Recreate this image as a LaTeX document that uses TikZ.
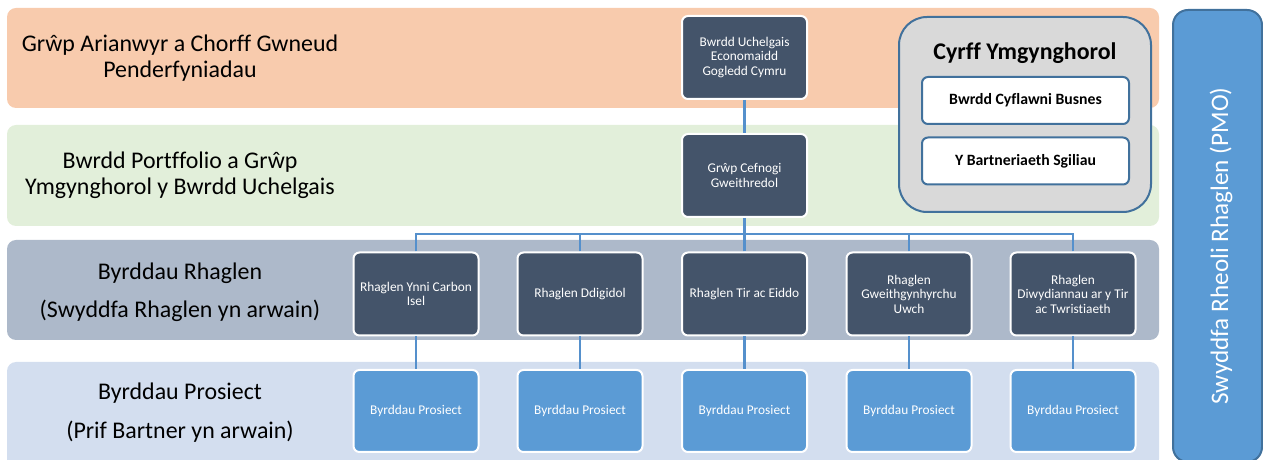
\documentclass[tikz,border=0pt]{standalone}
\usepackage{fontspec}
\setmainfont{Carlito}[Ligatures=NoCommon]
\definecolor{bandA}{HTML}{F8CBAD}
\definecolor{bandB}{HTML}{E2EFDA}
\definecolor{bandC}{HTML}{ADB9CA}
\definecolor{bandD}{HTML}{D3DEEF}
\definecolor{darkbox}{HTML}{44546A}
\definecolor{midblue}{HTML}{5B9BD5}
\definecolor{edgeblue}{HTML}{41719C}
\definecolor{linkblue}{HTML}{5590CC}
\definecolor{advgray}{HTML}{D9D9D9}
\begin{document}
\begin{tikzpicture}[x=1bp,y=-1bp,
  band/.style={rounded corners=9bp, draw=none},
  bandlabel/.style={align=center, font=\fontsize{24}{26.5}\selectfont, text=black},
  darknode/.style={draw=white, line width=2bp, fill=darkbox, rounded corners=6bp,
     minimum width=125bp, minimum height=83bp, align=center, text=white,
     font=\fontsize{13.4}{14.5}\selectfont, inner sep=1bp},
  bluenode/.style={draw=white, line width=2bp, fill=midblue, rounded corners=6bp,
     minimum width=125bp, minimum height=82bp, align=center, text=white,
     font=\fontsize{13.4}{14.5}\selectfont},
  advbox/.style={draw=edgeblue, line width=2bp, fill=white, rounded corners=6bp,
     minimum width=207bp, minimum height=47bp, align=center,
     font=\bfseries\fontsize{15.8}{18}\selectfont},
  link/.style={draw=linkblue, line width=2.8bp}
]
\useasboundingbox (0,0) rectangle (1263,460);
% bands
\fill[band, bandA] (7,8) rectangle (1159,108);
\fill[band, bandB] (7,125) rectangle (1159,226);
\fill[band, bandC] (7,240) rectangle (1159,340);
\fill[band, bandD] (7,362) rectangle (1159,468);
% band labels
\node[bandlabel] (lA) at (180,58) {Grŵp Arianwyr a Chorff Gwneud\\Penderfyniadau};
\node[bandlabel] (lB) at (180,175.5) {Bwrdd Portffolio a Grŵp\\Ymgynghorol y Bwrdd Uchelgais};
\node[bandlabel, font=\fontsize{24}{38}\selectfont] (lC) at (180,292) {Byrddau Rhaglen\\(Swyddfa Rhaglen yn arwain)};
\node[bandlabel, font=\fontsize{24}{39}\selectfont] (lD) at (180,413) {Byrddau Prosiect\\(Prif Bartner yn arwain)};
% PMO bar
\node[draw=edgeblue, line width=2bp, fill=midblue, rounded corners=15bp,
  minimum width=89bp, minimum height=452bp, inner sep=0pt] (pmo) at (1217.5,236) {};
\node[rotate=90, text=white, font=\fontsize{25.3}{28}\selectfont] (pmotext) at (1221,246) {Swyddfa Rheoli Rhaglen (PMO)};
% advisory
\node[draw=edgeblue, line width=2bp, fill=advgray, rounded corners=28bp,
  minimum width=252bp, minimum height=195bp, inner sep=0pt] (adv) at (1025,114.5) {};
\node[font=\bfseries\fontsize{24}{26}\selectfont] (advtitle) at (1025,53) {Cyrff Ymgynghorol};
\node[advbox] (adv1) at (1025.5,100.5) {Bwrdd Cyflawni Busnes};
\node[advbox] (adv2) at (1025.5,161) {Y Bartneriaeth Sgiliau};
% hierarchy nodes
\node[darknode] (top) at (744.5,57.5) {Bwrdd Uchelgais\\Economaidd\\Gogledd Cymru};
\node[darknode] (sup) at (744.5,175.5) {Grŵp Cefnogi\\Gweithredol};
\coordinate (bus) at (744.5,234);
\node[darknode] (r1) at (416,294) {Rhaglen Ynni Carbon\\Isel};
\node[darknode] (r2) at (580,294) {Rhaglen Ddigidol};
\node[darknode] (r3) at (744.5,294) {Rhaglen Tir ac Eiddo};
\node[darknode] (r4) at (909,294) {Rhaglen\\Gweithgynhyrchu\\Uwch};
\node[darknode] (r5) at (1073,294) {Rhaglen\\Diwydiannau ar y Tir\\ac Twristiaeth};
\node[bluenode] (p1) at (416,411) {Byrddau Prosiect};
\node[bluenode] (p2) at (580,411) {Byrddau Prosiect};
\node[bluenode] (p3) at (744.5,411) {Byrddau Prosiect};
\node[bluenode] (p4) at (909,411) {Byrddau Prosiect};
\node[bluenode] (p5) at (1073,411) {Byrddau Prosiect};
% connectors
\draw[link] (top.south) -- (sup.north);
\draw[link] (sup.south) -- (bus);
\draw[link] (r1.north) |- (bus);
\draw[link] (r5.north) |- (bus);
\draw[link] (r2.north) -- (r2.north |- bus);
\draw[link] (r4.north) -- (r4.north |- bus);
\draw[link] (r3.north) -- (bus);
\foreach \i in {1,...,5}{\draw[link] (r\i.south) -- (p\i.north);}
\end{tikzpicture}
\end{document}
